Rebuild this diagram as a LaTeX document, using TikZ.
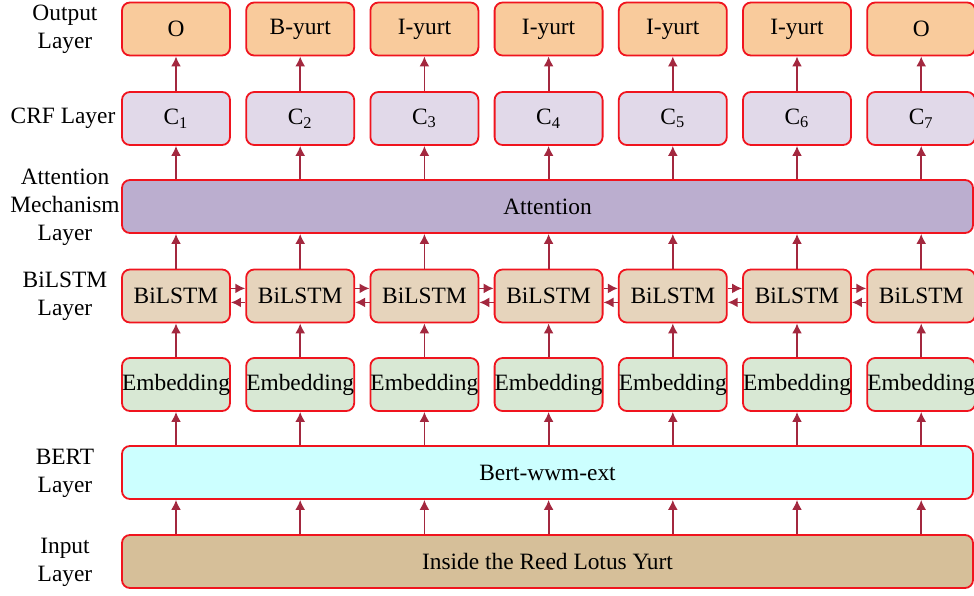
\documentclass[tikz,border=0pt]{standalone}
\usepackage{fontspec}
\setmainfont{Liberation Serif}
\usetikzlibrary{arrows.meta}

\definecolor{boxred}{HTML}{F0141E}
\definecolor{arrowred}{HTML}{A3283F}
\definecolor{outfill}{HTML}{F9CB9C}
\definecolor{crffill}{HTML}{E1D9E9}
\definecolor{attfill}{HTML}{BBAECF}
\definecolor{lstmfill}{HTML}{E6D4BC}
\definecolor{embfill}{HTML}{D8E8D4}
\definecolor{bertfill}{HTML}{CCFFFF}
\definecolor{infill}{HTML}{D6BF99}

\begin{document}
\begin{tikzpicture}
  [
   x=0.5pt,y=-0.5pt, % 以像素为单位, y 轴向下
   every node/.style={font=\fontsize{11.7}{14}\selectfont},
   box/.style={draw=boxred, line width=0.9pt, rounded corners=4pt,
               minimum width=54pt, minimum height=26.5pt, inner sep=0pt},
   widebox/.style={box, minimum width=425.5pt},
   up/.style={draw=arrowred, line width=0.9pt, -{Latex[length=5pt,width=5pt]}},
   lab/.style={align=center, inner sep=0pt}
  ]
  \useasboundingbox (0,0) rectangle (974,595);

  % 左侧各层名称
  \node[lab] (lout)  at (65,29)    {Output\\Layer};
  \node[lab] (lcrf)  at (63,118.5) {CRF Layer};
  \node[lab] (latt)  at (65,207)   {Attention\\Mechanism\\Layer};
  \node[lab] (llstm) at (65,296)   {BiLSTM\\Layer};
  \node[lab] (lbert) at (65,473)   {BERT\\Layer};
  \node[lab] (lin)   at (65,562)   {Input\\Layer};

  % 通栏的三层
  \node[widebox, fill=attfill]  (att)  at (547.5,206.5) {Attention};
  \node[widebox, fill=bertfill] (bert) at (547.5,472.5) {Bert-wwm-ext};
  \node[widebox, fill=infill]   (in)   at (547.5,561.5) {Inside the Reed Lotus Yurt};

  % 每一列: 输出, CRF, BiLSTM, Embedding
  \foreach \i/\t in {1/O,2/B-yurt,3/I-yurt,4/I-yurt,5/I-yurt,6/I-yurt,7/O}
    {
     \node[box, fill=outfill]  (o\i) at ({176+124.2*(\i-1)},29)    {\t};
     \node[box, fill=crffill]  (c\i) at ({176+124.2*(\i-1)},118.5) {C\textsubscript{\i}};
     \node[box, fill=lstmfill] (b\i) at ({176+124.2*(\i-1)},296)   {BiLSTM};
     \node[box, fill=embfill]  (e\i) at ({176+124.2*(\i-1)},384.5) {Embedding};
    }

  % 竖直箭头
  \foreach \i in {1,...,7}
    {
     \draw[up] (in.north -| e\i) -- (bert.south -| e\i);
     \draw[up] (bert.north -| e\i) -- (e\i);
     \draw[up] (e\i) -- (b\i);
     \draw[up] (b\i) -- (att.south -| b\i);
     \draw[up] (att.north -| c\i) -- (c\i);
     \draw[up] (c\i) -- (o\i);
    }

  % BiLSTM 之间的双向箭头
  \foreach \i [evaluate=\i as \j using int(\i+1)] in {1,...,6}
    {
     \draw[up] ([yshift=3.8pt]b\i.east) -- ([yshift=3.8pt]b\j.west);
     \draw[up] ([yshift=-3.2pt]b\j.west) -- ([yshift=-3.2pt]b\i.east);
    }
\end{tikzpicture}
\end{document}
